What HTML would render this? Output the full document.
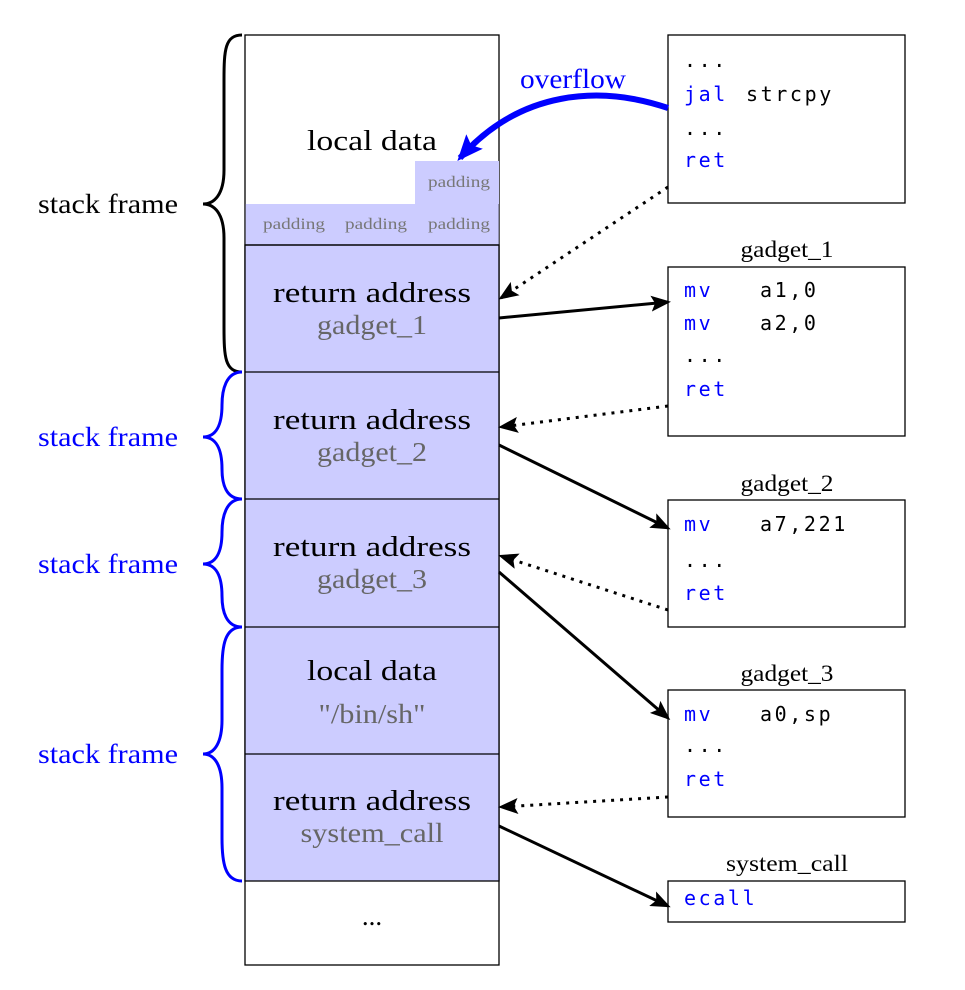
<!DOCTYPE html>
<html><head><style>
html,body{margin:0;padding:0;background:#fff}
svg{display:block}
.s{font-family:"Liberation Serif",serif}
.m{font-family:"DejaVu Sans Mono","Liberation Mono",monospace;font-size:20px;letter-spacing:2.6px}
</style></head><body>
<svg width="965" height="990" viewBox="0 0 965 990" xmlns="http://www.w3.org/2000/svg">
<defs>
<marker id="ab2" markerWidth="20" markerHeight="16" refX="17" refY="8" orient="auto" markerUnits="userSpaceOnUse" viewBox="0 0 20 16"><path d="M0,0 L20,8 L0,16 L4,8 z" fill="#000"/></marker>
<marker id="abb" markerWidth="26" markerHeight="22" refX="22" refY="11" orient="auto" markerUnits="userSpaceOnUse" viewBox="0 0 26 22"><path d="M0,0 L26,11 L0,22 L5,11 z" fill="#0000ff"/></marker>
</defs>
<rect x="245" y="35" width="254" height="930" fill="#fff" stroke="#000" stroke-width="1.3"/>
<rect x="415" y="161" width="84" height="43" fill="#ccccff"/>
<rect x="245.7" y="204" width="253" height="41" fill="#ccccff"/>
<rect x="245" y="245" width="254" height="636" fill="#ccccff" stroke="#000" stroke-width="1.3"/>
<g stroke="#000" stroke-width="1.3">
<line x1="245" y1="372" x2="499" y2="372"/><line x1="245" y1="499" x2="499" y2="499"/>
<line x1="245" y1="627" x2="499" y2="627"/><line x1="245" y1="754" x2="499" y2="754"/>
<line x1="245" y1="245" x2="499" y2="245"/>
</g>
<g class="s" text-anchor="middle" lengthAdjust="spacingAndGlyphs">
<text x="372" y="150" font-size="29" textLength="130" lengthAdjust="spacingAndGlyphs">local data</text>
<text x="459" y="187" font-size="16" fill="#777" textLength="62" lengthAdjust="spacingAndGlyphs">padding</text>
<text x="294" y="229" font-size="16" fill="#777" textLength="62" lengthAdjust="spacingAndGlyphs">padding</text>
<text x="376" y="229" font-size="16" fill="#777" textLength="62" lengthAdjust="spacingAndGlyphs">padding</text>
<text x="459" y="229" font-size="16" fill="#777" textLength="62" lengthAdjust="spacingAndGlyphs">padding</text>
<text x="372" y="302" font-size="29" textLength="198" lengthAdjust="spacingAndGlyphs">return address</text>
<text x="372" y="334" font-size="27" fill="#666" textLength="110" lengthAdjust="spacingAndGlyphs">gadget_1</text>
<text x="372" y="429" font-size="29" textLength="198" lengthAdjust="spacingAndGlyphs">return address</text>
<text x="372" y="461" font-size="27" fill="#666" textLength="110" lengthAdjust="spacingAndGlyphs">gadget_2</text>
<text x="372" y="556" font-size="29" textLength="198" lengthAdjust="spacingAndGlyphs">return address</text>
<text x="372" y="588" font-size="27" fill="#666" textLength="110" lengthAdjust="spacingAndGlyphs">gadget_3</text>
<text x="372" y="680" font-size="29" textLength="130" lengthAdjust="spacingAndGlyphs">local data</text>
<text x="372" y="723" font-size="27" fill="#666" textLength="107" lengthAdjust="spacingAndGlyphs">"/bin/sh"</text>
<text x="372" y="810" font-size="29" textLength="198" lengthAdjust="spacingAndGlyphs">return address</text>
<text x="372" y="842" font-size="27" fill="#666" textLength="143" lengthAdjust="spacingAndGlyphs">system_call</text>
<text x="372" y="925" font-size="27">...</text>
</g>
<g fill="none" stroke-width="3">
<path d="M242,35 C225,35 224,50 224,80 L224,170 C224,195 214,204 203,204 C214,204 224,213 224,238 L224,327 C224,357 225,372 242,372" stroke="#000"/>
<path d="M242,372 C226,372 222,390 222,405 C222,425 216,437 203,437 C216,437 222,449 222,469 C222,484 226,499 242,499" stroke="#0000ff"/>
<path d="M242,499 C226,499 222,517 222,532 C222,552 216,564 203,564 C216,564 222,576 222,596 C222,611 226,627 242,627" stroke="#0000ff"/>
<path d="M242,627 C225,627 222,645 222,670 L222,720 C222,742 215,754 203,754 C215,754 222,766 222,788 L222,838 C222,863 225,881 242,881" stroke="#0000ff"/>
</g>
<g class="s" font-size="27">
<text x="38" y="213" fill="#000" textLength="140" lengthAdjust="spacingAndGlyphs">stack frame</text>
<text x="38" y="446" fill="#0000ff" textLength="140" lengthAdjust="spacingAndGlyphs">stack frame</text>
<text x="38" y="573" fill="#0000ff" textLength="140" lengthAdjust="spacingAndGlyphs">stack frame</text>
<text x="38" y="763" fill="#0000ff" textLength="140" lengthAdjust="spacingAndGlyphs">stack frame</text>
</g>
<g fill="#fff" stroke="#000" stroke-width="1.3">
<rect x="668" y="35" width="237" height="168"/>
<rect x="668" y="267" width="237" height="169"/>
<rect x="668" y="500" width="237" height="127"/>
<rect x="668" y="690" width="237" height="127"/>
<rect x="668" y="881" width="237" height="41"/>
</g>
<g class="s" font-size="23" text-anchor="middle">
<text x="787" y="257" textLength="93" lengthAdjust="spacingAndGlyphs">gadget_1</text>
<text x="787" y="491" textLength="93" lengthAdjust="spacingAndGlyphs">gadget_2</text>
<text x="787" y="681" textLength="93" lengthAdjust="spacingAndGlyphs">gadget_3</text>
<text x="787" y="871" textLength="122" lengthAdjust="spacingAndGlyphs">system_call</text>
</g>
<g class="m">
<text x="684" y="67">...</text>
<text x="684" y="101" fill="#0000ff">jal</text><text x="746" y="101">strcpy</text>
<text x="684" y="135">...</text>
<text x="684" y="167" fill="#0000ff">ret</text>
<text x="684" y="297" fill="#0000ff">mv</text><text x="760" y="297">a1,0</text>
<text x="684" y="330" fill="#0000ff">mv</text><text x="760" y="330">a2,0</text>
<text x="684" y="362">...</text>
<text x="684" y="396" fill="#0000ff">ret</text>
<text x="684" y="531" fill="#0000ff">mv</text><text x="760" y="531">a7,221</text>
<text x="684" y="567">...</text>
<text x="684" y="600" fill="#0000ff">ret</text>
<text x="684" y="721" fill="#0000ff">mv</text><text x="760" y="721">a0,sp</text>
<text x="684" y="752">...</text>
<text x="684" y="786" fill="#0000ff">ret</text>
<text x="684" y="905" fill="#0000ff">ecall</text>
</g>
<text class="s" x="520" y="88" font-size="27" fill="#0000ff" textLength="106" lengthAdjust="spacingAndGlyphs">overflow</text>
<path d="M668,108 C600,85 520,90 460,158" fill="none" stroke="#0000ff" stroke-width="6" marker-end="url(#abb)"/>
<g fill="none" stroke="#000" stroke-width="3">
<path d="M499,318 L668,302" marker-end="url(#ab2)"/>
<path d="M499,445 L668,528" marker-end="url(#ab2)"/>
<path d="M499,572 L668,718" marker-end="url(#ab2)"/>
<path d="M499,826 L668,906" marker-end="url(#ab2)"/>
</g>
<g fill="none" stroke="#000" stroke-width="3" stroke-dasharray="3,6">
<path d="M668,187 L501,298" marker-end="url(#ab2)"/>
<path d="M668,406 L501,427" marker-end="url(#ab2)"/>
<path d="M668,610 L501,556" marker-end="url(#ab2)"/>
<path d="M668,797 L501,807" marker-end="url(#ab2)"/>
</g>
</svg>
</body></html>
